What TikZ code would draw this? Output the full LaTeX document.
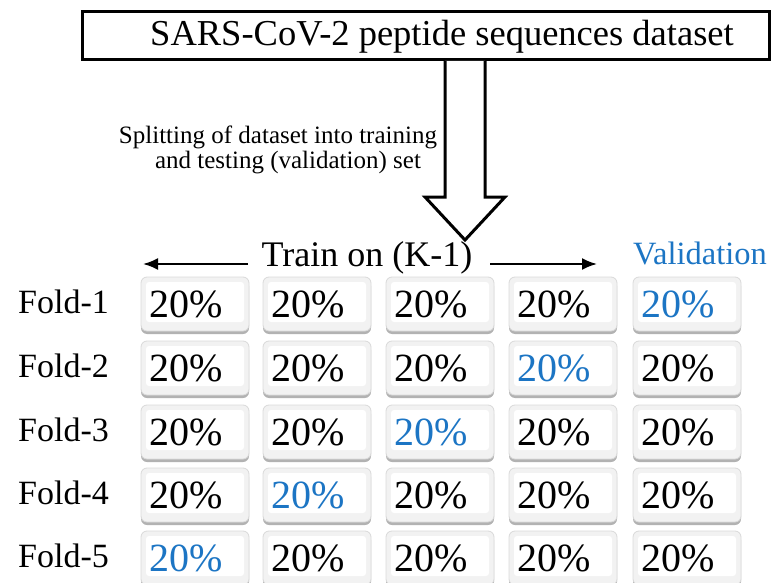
\documentclass[tikz,border=0pt]{standalone}
\usepackage{fontspec}
\setmainfont{Liberation Serif}
\usetikzlibrary{arrows.meta,shadows}
\definecolor{valblue}{RGB}{28,117,196}
\tikzset{
  keycap/.style={rounded corners=6pt, fill=gray!10, draw=gray!30, line width=0.8pt,
    minimum width=108pt, minimum height=54pt, inner sep=0pt,
    font=\fontsize{40}{40}\selectfont,
    drop shadow={shadow xshift=0pt, shadow yshift=-3pt, fill=gray!60, opacity=1},
    path picture={\fill[white, rounded corners=3pt]
      ([shift={(5pt,9pt)}]path picture bounding box.south west) rectangle
      ([shift={(-5pt,-5pt)}]path picture bounding box.north east);},
    text depth=0pt},
  bluekey/.style={keycap, text=valblue},
  foldlab/.style={anchor=west, font=\fontsize{34}{34}\selectfont, inner sep=0pt},
  thinarrow/.style={line width=2.2pt, -{Latex[length=15pt,width=12pt]}},
}
\newcommand{\pct}{20\%\hspace*{18pt}}
\begin{document}
\begin{tikzpicture}[x=1pt,y=-1pt]
\useasboundingbox (0,0) rectangle (771,583);
% title box
\node[draw, line width=3pt, minimum width=687pt, minimum height=48pt, inner sep=0pt] (title) at (426,36) {};
\node[font=\fontsize{36.5}{36.5}\selectfont, inner sep=0pt] (titletext) at (442,37) {SARS-CoV-2 peptide sequences dataset};
% block arrow
\draw[line width=3pt, fill=white, line join=miter]
  (445,61) -- (445,197) -- (425,197) -- (465,240) -- (505,197) -- (485,197) -- (485,61);
% splitting text
\node[font=\fontsize{25}{25}\selectfont, align=center, inner sep=0pt] (split) at (278,150)
  {Splitting of dataset into training\\ \hspace*{20pt}and testing (validation) set};
% train on
\node[font=\fontsize{36}{36}\selectfont, inner sep=0pt] (train) at (367,258) {Train on (K-1)};
\coordinate (lend) at (143,264);
\coordinate (rend) at (597,264);
\coordinate (lstart) at (248,264);
\coordinate (rstart) at (490,264);
\draw[thinarrow] (lstart) -- (lend);
\draw[thinarrow] (rstart) -- (rend);
\node[font=\fontsize{32.5}{32.5}\selectfont, text=valblue, inner sep=0pt] (valid) at (700,253) {Validation};
% folds
\foreach \r/\y/\b in {1/304/5, 2/368/4, 3/432/3, 4/495/2, 5/558/1} {
  \node[foldlab] (fold\r) at (18,\y-2) {Fold-\r};
  \foreach \c/\x in {1/195, 2/317, 3/440, 4/563, 5/687} {
    \ifnum\c=\b
      \node[bluekey] (k\r\c) at (\x,\y) {\pct};
    \else
      \node[keycap] (k\r\c) at (\x,\y) {\pct};
    \fi
  }
}
\end{tikzpicture}
\end{document}
